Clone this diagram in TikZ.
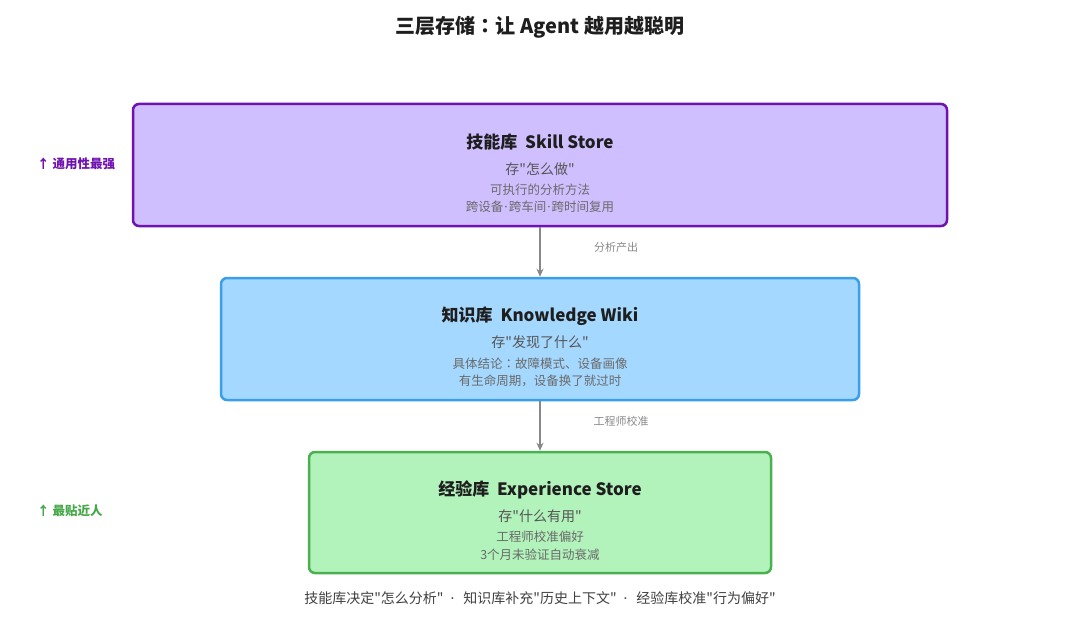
\documentclass[tikz,border=0pt]{standalone}
\usepackage{fontspec}
\setmainfont{Noto Sans CJK SC}[Ligatures=TeXOff]
\newfontfamily\latinfont{Noto Sans}[Ligatures=TeXOff]
\newfontfamily\tcfont{Noto Sans CJK TC}[Ligatures=TeXOff]
\newcommand{\mdot}{{\latinfont\hspace{1pt}·\hspace{1pt}}}
\newcommand{\fcolon}{{\tcfont ：}}
\usetikzlibrary{arrows.meta}
\definecolor{pfill}{HTML}{D0BFFF}
\definecolor{pline}{HTML}{7012B0}
\definecolor{bfill}{HTML}{A5D8FF}
\definecolor{bline}{HTML}{3A9EE8}
\definecolor{gfill}{HTML}{B2F2BB}
\definecolor{gline}{HTML}{4CAF50}
\definecolor{glabel}{HTML}{45A848}
\definecolor{ttl}{HTML}{1E1E1E}
\definecolor{sub}{HTML}{555555}
\definecolor{det}{HTML}{6A6A6A}
\definecolor{arr}{HTML}{888888}
\begin{document}
\begin{tikzpicture}[x=1pt,y=-1pt,
  layer/.style={rounded corners=6pt, line width=2.5pt, inner sep=0pt},
  boxtitle/.style={font=\fontsize{17}{20}\selectfont\bfseries, text=ttl, inner sep=0pt},
  boxsub/.style={font=\fontsize{14}{16}\selectfont, text=sub, inner sep=0pt},
  boxdet/.style={font=\fontsize{12.5}{15}\selectfont, text=det, inner sep=0pt},
  elabel/.style={font=\fontsize{11}{13}\selectfont, text=arr, inner sep=0pt},
  side/.style={font=\fontsize{12.5}{15}\selectfont\bfseries, inner sep=0pt, anchor=west},
  conn/.style={draw=arr, line width=2.5pt, -{Stealth[length=8pt,width=7pt]}}
]
\useasboundingbox (0,0) rectangle (1080,626);
\node[font=\fontsize{20}{24}\selectfont\bfseries, text=ttl, inner sep=0pt] (title) at (540,27) {三层存储\fcolon 让 Agent 越用越聪明};

\node[layer, draw=pline, fill=pfill, minimum width=814pt, minimum height=122pt] (skill) at (540,165) {};
\node[boxtitle] (skillt) at (540,142) {技能库\ \ Skill Store};
\node[boxsub] (skills) at (540,169) {存"怎么做"};
\node[boxdet] (skilld1) at (540,190) {可执行的分析方法};
\node[boxdet] (skilld2) at (540,207) {跨设备\mdot 跨车间\mdot 跨时间复用};

\node[layer, draw=bline, fill=bfill, minimum width=638pt, minimum height=122pt] (wiki) at (540,339) {};
\node[boxtitle] (wikit) at (540,316) {知识库\ \ Knowledge Wiki};
\node[boxsub] (wikis) at (540,342) {存"发现了什么"};
\node[boxdet] (wikid1) at (540,364) {具体结论\fcolon 故障模式、设备画像};
\node[boxdet] (wikid2) at (540,381) {有生命周期，设备换了就过时};

\node[layer, draw=gline, fill=gfill, minimum width=462pt, minimum height=121pt] (exp) at (540,512.5) {};
\node[boxtitle] (expt) at (540,490) {经验库\ \ Experience Store};
\node[boxsub] (exps) at (540,516) {存"什么有用"};
\node[boxdet] (expd1) at (540,537) {工程师校准偏好};
\node[boxdet] (expd2) at (540,555) {3个月未验证自动衰减};

\draw[conn] (skill.south) -- (wiki.north);
\draw[conn] (wiki.south) -- (exp.north);
\node[elabel] (l1) at (616,247) {分析产出};
\node[elabel] (l2) at (621,421) {工程师校准};

\node[side, text=pline] (s1) at (37,164) {↑ 通用性最强};
\node[side, text=glabel] (s2) at (37,511) {↑ 最贴近人};

\node[font=\fontsize{14}{16}\selectfont, text=ttl!85, inner sep=0pt] (foot) at (540,598) {技能库决定"怎么分析"\hspace{7pt}{\latinfont ·}\hspace{9pt}知识库补充"历史上下文"\hspace{7pt}{\latinfont ·}\hspace{9pt}经验库校准"行为偏好"};
\end{tikzpicture}
\end{document}
